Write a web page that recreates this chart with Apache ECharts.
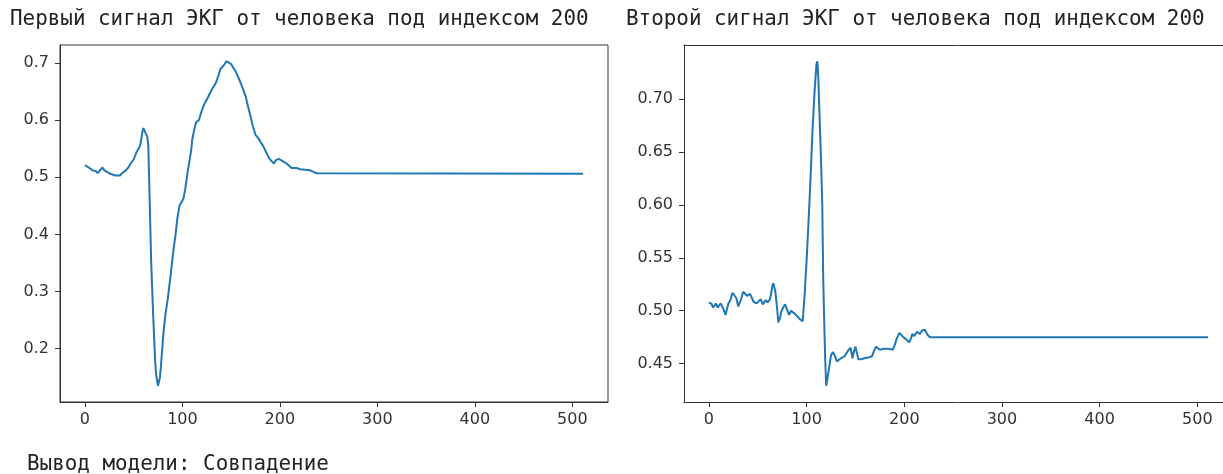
<!DOCTYPE html>
<html>
<head>
<meta charset="utf-8">
<script src="https://cdn.jsdelivr.net/npm/echarts@6/dist/echarts.min.js"></script>
<style>
  html, body { margin: 0; padding: 0; background: #fff; overflow: hidden; }
  #chart { width: 1245px; height: 474px; }
</style>
</head>
<body>
<div id="chart"></div>
<script>
// Titles and caption
const title1 = 'Первый сигнал ЭКГ от человека под индексом 200';
const title2 = 'Второй сигнал ЭКГ от человека под индексом 200';
const caption = 'Вывод модели: Совпадение';

// Tick labels
const xTicks = [0, 100, 200, 300, 400, 500];
const yTicks1 = [0.2, 0.3, 0.4, 0.5, 0.6, 0.7];
const yTicks2 = [0.45, 0.50, 0.55, 0.60, 0.65, 0.70];

// First ECG signal: sample index and amplitude
const sig1Idx = [0, 4, 8, 11, 13, 15, 18, 20, 23, 26, 28, 31, 33, 36, 38, 42, 45, 47, 50, 53,
  56, 57, 59, 60, 61, 62, 64, 65, 66, 68, 70, 72, 73, 75, 77, 78, 80, 81, 83,
  85, 88, 91, 93, 95, 97, 99, 101, 103, 105, 107, 109, 110, 112, 114, 117, 119, 121, 123, 126,
  128, 131, 133, 135, 137, 139, 141, 143, 145, 147, 150, 152, 155, 157, 160, 162, 165, 167, 170, 172,
  175, 178, 180, 183, 185, 187, 189, 191, 194, 196, 199, 201, 204, 207, 209, 212, 214, 217, 219, 221,
  223, 226, 228, 231, 233, 235, 236, 238, 240, 511];
const sig1Val = [0.521, 0.517, 0.512, 0.511, 0.507, 0.506, 0.517, 0.512, 0.509, 0.506, 0.507, 0.503, 0.502, 0.503, 0.507, 0.512, 0.518, 0.524, 0.531, 0.544,
  0.553, 0.558, 0.580, 0.586, 0.584, 0.578, 0.571, 0.555, 0.489, 0.350, 0.260, 0.180, 0.155, 0.135, 0.150, 0.170, 0.215, 0.236, 0.265,
  0.287, 0.330, 0.375, 0.400, 0.430, 0.450, 0.456, 0.462, 0.480, 0.505, 0.526, 0.547, 0.565, 0.582, 0.596, 0.600, 0.612, 0.622, 0.630, 0.639,
  0.646, 0.656, 0.661, 0.668, 0.678, 0.689, 0.693, 0.697, 0.703, 0.701, 0.698, 0.692, 0.684, 0.676, 0.664, 0.655, 0.641, 0.626, 0.606, 0.591,
  0.574, 0.568, 0.562, 0.554, 0.547, 0.540, 0.533, 0.529, 0.524, 0.530, 0.532, 0.530, 0.527, 0.524, 0.521, 0.516, 0.513, 0.516, 0.517, 0.514,
  0.512, 0.513, 0.511, 0.512, 0.514, 0.509, 0.512, 0.507, 0.506, 0.506];

// Second ECG signal: sample index and amplitude
const sig2Idx = [0, 2, 3, 4, 6, 7, 9, 10, 12, 13, 15, 17, 18, 20, 22, 24, 26, 28, 30, 31,
  33, 35, 37, 39, 42, 44, 46, 49, 51, 53, 55, 56, 58, 60, 62, 63, 65, 66, 68, 70,
  71, 73, 74, 76, 78, 80, 82, 84, 86, 88, 90, 93, 96, 98, 100, 102, 104, 106, 108, 110,
  111, 112, 113, 115, 116, 117, 118, 119, 120, 121, 123, 125, 127, 129, 131, 133, 135, 137, 139, 141,
  143, 145, 147, 148, 150, 152, 153, 156, 159, 161, 164, 167, 169, 171, 173, 175, 177, 179, 181, 184,
  186, 188, 190, 192, 195, 197, 199, 201, 203, 205, 207, 208, 210, 213, 216, 218, 221, 222, 224, 226, 511];
const sig2Val = [0.508, 0.507, 0.506, 0.503, 0.505, 0.507, 0.503, 0.504, 0.507, 0.505, 0.501, 0.496, 0.500, 0.507, 0.510, 0.517, 0.516, 0.512, 0.504, 0.503,
  0.511, 0.518, 0.516, 0.514, 0.516, 0.512, 0.508, 0.507, 0.508, 0.511, 0.506, 0.505, 0.510, 0.508, 0.510, 0.513, 0.524, 0.526, 0.518, 0.500,
  0.489, 0.494, 0.499, 0.503, 0.506, 0.501, 0.496, 0.500, 0.499, 0.497, 0.495, 0.492, 0.490, 0.516, 0.548, 0.585, 0.625, 0.670, 0.705, 0.733,
  0.736, 0.720, 0.690, 0.635, 0.600, 0.530, 0.490, 0.455, 0.429, 0.434, 0.446, 0.458, 0.461, 0.457, 0.452, 0.453, 0.455, 0.454, 0.457, 0.460,
  0.463, 0.465, 0.455, 0.460, 0.466, 0.458, 0.454, 0.454, 0.455, 0.455, 0.456, 0.457, 0.462, 0.466, 0.466, 0.463, 0.463, 0.464, 0.463, 0.464,
  0.465, 0.463, 0.467, 0.473, 0.479, 0.477, 0.475, 0.474, 0.472, 0.470, 0.474, 0.478, 0.476, 0.480, 0.478, 0.481, 0.482, 0.483, 0.477, 0.475, 0.475];

const zip = (xs, ys) => xs.map((x, i) => [x, ys[i]]);

// Axis limits with a 5% margin around the data
function padded(lo, hi) {
  const m = (hi - lo) * 0.05;
  return [lo - m, hi + m];
}
const xLim = padded(0, 511);
const yLim1 = padded(Math.min(...sig1Val), Math.max(...sig1Val));
const yLim2 = padded(Math.min(...sig2Val), Math.max(...sig2Val));

const labelStyle = { fontFamily: 'DejaVu Sans', fontSize: 16, color: '#333' };
const lineStyle = { color: '#333', width: 1 };

function xAxis(gridIndex) {
  return {
    type: 'value', gridIndex, min: xLim[0], max: xLim[1],
    axisLine: { show: true, onZero: false, lineStyle },
    axisTick: { show: true, length: 5, customValues: xTicks, lineStyle },
    axisLabel: { ...labelStyle, margin: 10, customValues: xTicks, formatter: v => String(v) },
    splitLine: { show: false }
  };
}
// Plain top spine (no ticks, no labels)
function topSpine(gridIndex) {
  return {
    type: 'value', gridIndex, position: 'top', min: xLim[0], max: xLim[1],
    axisLine: { show: true, onZero: false, lineStyle },
    axisTick: { show: false }, axisLabel: { show: false }, splitLine: { show: false }
  };
}
function yAxis(gridIndex, lim, ticks, digits) {
  return {
    type: 'value', gridIndex, min: lim[0], max: lim[1],
    axisLine: { show: true, onZero: false, lineStyle },
    axisTick: { show: true, length: 5, customValues: ticks, lineStyle },
    axisLabel: { ...labelStyle, margin: 11, customValues: ticks, formatter: v => v.toFixed(digits) },
    splitLine: { show: false }
  };
}

const titleStyle = { fontFamily: 'DejaVu Sans Mono', fontSize: 20.9, fontWeight: 'normal', color: '#222' };

const chart = echarts.init(document.getElementById('chart'), null, { renderer: 'canvas' });
chart.setOption({
  animation: false,
  backgroundColor: '#fff',
  title: [
    { text: title1, left: 10, top: 9, padding: 0, textStyle: titleStyle },
    { text: title2, left: 626, top: 9, padding: 0, textStyle: titleStyle },
    { text: caption, left: 27, top: 454, padding: 0, textStyle: titleStyle }
  ],
  grid: [
    { left: 60, top: 45, width: 548, height: 357, show: true, borderColor: '#333', borderWidth: 1, backgroundColor: '#fff' },
    { left: 684, top: 45, width: 549, height: 357, show: false }
  ],
  xAxis: [xAxis(0), xAxis(1), topSpine(1)],
  yAxis: [yAxis(0, yLim1, yTicks1, 1), yAxis(1, yLim2, yTicks2, 2)],
  series: [
    {
      type: 'line', xAxisIndex: 0, yAxisIndex: 0, data: zip(sig1Idx, sig1Val),
      showSymbol: false, lineStyle: { color: '#1f77b4', width: 2 }
    },
    {
      type: 'line', xAxisIndex: 1, yAxisIndex: 1, data: zip(sig2Idx, sig2Val),
      showSymbol: false, lineStyle: { color: '#1f77b4', width: 2 }
    }
  ]
});
</script>
</body>
</html>
